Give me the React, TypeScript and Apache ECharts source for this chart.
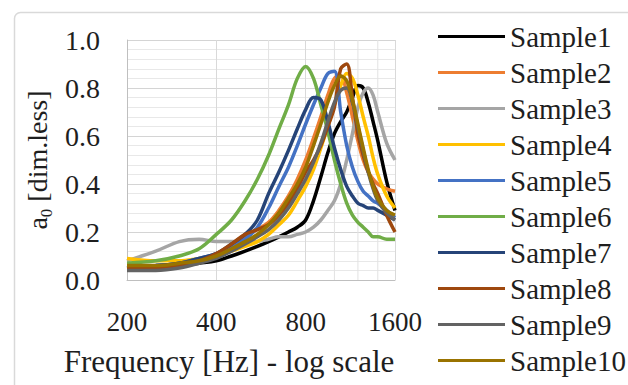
import React, { useEffect, useRef } from "react";
import * as echarts from "echarts";

// Frequencies (Hz) at which values were read
const FREQ_HZ = [200, 250, 300, 350, 400, 450, 500, 550, 600, 650, 700, 750, 800, 850, 900, 950, 1000, 1050, 1100, 1150, 1200, 1250, 1300, 1350, 1400, 1500, 1600];

const SAMPLE_NAMES = ["Sample1", "Sample2", "Sample3", "Sample4", "Sample5", "Sample6", "Sample7", "Sample8", "Sample9", "Sample10"];

const SAMPLE1 = [0.05, 0.05, 0.06, 0.07, 0.08, 0.10, 0.12, 0.14, 0.16, 0.18, 0.20, 0.22, 0.25, 0.33, 0.43, 0.53, 0.61, 0.66, 0.70, 0.76, 0.81, 0.80, 0.74, 0.66, 0.58, 0.41, 0.29];
const SAMPLE2 = [0.05, 0.05, 0.06, 0.08, 0.10, 0.14, 0.18, 0.21, 0.24, 0.29, 0.35, 0.42, 0.50, 0.59, 0.68, 0.77, 0.84, 0.85, 0.78, 0.68, 0.58, 0.50, 0.45, 0.42, 0.40, 0.38, 0.37];
const SAMPLE3 = [0.08, 0.12, 0.16, 0.17, 0.16, 0.16, 0.16, 0.16, 0.17, 0.18, 0.18, 0.19, 0.20, 0.22, 0.25, 0.29, 0.33, 0.40, 0.50, 0.61, 0.72, 0.78, 0.80, 0.77, 0.70, 0.57, 0.50];
const SAMPLE4 = [0.09, 0.08, 0.08, 0.09, 0.10, 0.12, 0.14, 0.16, 0.19, 0.23, 0.27, 0.33, 0.39, 0.46, 0.55, 0.64, 0.73, 0.81, 0.86, 0.84, 0.77, 0.68, 0.60, 0.51, 0.44, 0.35, 0.30];
const SAMPLE5 = [0.05, 0.06, 0.07, 0.09, 0.11, 0.14, 0.17, 0.22, 0.30, 0.39, 0.47, 0.56, 0.65, 0.73, 0.80, 0.86, 0.87, 0.70, 0.56, 0.47, 0.41, 0.37, 0.35, 0.33, 0.32, 0.29, 0.26];
const SAMPLE6 = [0.07, 0.08, 0.10, 0.13, 0.19, 0.25, 0.33, 0.42, 0.52, 0.63, 0.73, 0.84, 0.89, 0.84, 0.73, 0.62, 0.50, 0.40, 0.32, 0.27, 0.24, 0.22, 0.20, 0.18, 0.18, 0.17, 0.17];
const SAMPLE7 = [0.05, 0.06, 0.07, 0.09, 0.11, 0.15, 0.19, 0.25, 0.36, 0.45, 0.54, 0.63, 0.71, 0.76, 0.75, 0.66, 0.55, 0.46, 0.39, 0.35, 0.32, 0.31, 0.30, 0.30, 0.29, 0.27, 0.25];
const SAMPLE8 = [0.05, 0.05, 0.06, 0.08, 0.11, 0.15, 0.19, 0.21, 0.23, 0.27, 0.32, 0.38, 0.45, 0.50, 0.56, 0.64, 0.72, 0.88, 0.90, 0.76, 0.61, 0.52, 0.45, 0.40, 0.36, 0.27, 0.20];
const SAMPLE9 = [0.04, 0.04, 0.05, 0.07, 0.09, 0.12, 0.15, 0.18, 0.21, 0.25, 0.30, 0.36, 0.42, 0.49, 0.57, 0.66, 0.74, 0.79, 0.80, 0.74, 0.64, 0.54, 0.45, 0.38, 0.33, 0.28, 0.25];
const SAMPLE10 = [0.06, 0.06, 0.07, 0.08, 0.10, 0.13, 0.16, 0.19, 0.23, 0.28, 0.34, 0.40, 0.47, 0.56, 0.65, 0.74, 0.81, 0.85, 0.83, 0.75, 0.65, 0.55, 0.46, 0.39, 0.34, 0.29, 0.27];

const SAMPLES = [SAMPLE1, SAMPLE2, SAMPLE3, SAMPLE4, SAMPLE5, SAMPLE6, SAMPLE7, SAMPLE8, SAMPLE9, SAMPLE10];
const COLORS = ["#000000", "#ED7D31", "#A5A5A5", "#FFC000", "#4472C4", "#70AD47", "#264478", "#9E480E", "#636363", "#997300"];

// Axis definitions
const F_MIN = 200;
const OCTAVES = 3; // 200 -> 1600
const MINOR_GRID_HZ = [600, 1000, 1200, 1400];

const FONT = "Liberation Serif";
const TEXT = "#1e1e1e";

const toX = (f: number) => Math.log2(f / F_MIN);

export default function App() {
  const ref = useRef<HTMLDivElement>(null);
  useEffect(() => {
    if (!ref.current) return;
    const chart = echarts.init(ref.current, null, { renderer: "svg" });
    const option: any = {
      animation: false,
      backgroundColor: "#ffffff",
      textStyle: { fontFamily: FONT },
      graphic: [
        {
          type: "rect",
          silent: true,
          z: -10,
          shape: { x: 14.5, y: 12.5, width: 700, height: 500, r: 6 },
          style: { fill: "none", stroke: "#d9d9d9", lineWidth: 1.5 },
        },
      ],
      grid: { left: 127, top: 40, width: 268, height: 240 },
      legend: {
        data: SAMPLE_NAMES,
        orient: "vertical",
        left: 438,
        top: 22,
        padding: 0,
        icon: "rect",
        itemWidth: 67,
        itemHeight: 3,
        itemGap: 7,
        textStyle: { fontSize: 29, color: TEXT, fontFamily: FONT },
      },
      xAxis: {
        type: "value",
        min: 0,
        max: OCTAVES,
        interval: 1,
        axisLine: { show: true, lineStyle: { color: "#bfbfbf" } },
        axisTick: { show: false },
        splitLine: { show: true, lineStyle: { color: "#d9d9d9" } },
        axisLabel: {
          formatter: (v: number) => String(Math.round(F_MIN * Math.pow(2, v))),
          fontSize: 27,
          color: TEXT,
          fontFamily: FONT,
          margin: 28,
        },
        name: "Frequency [Hz] - log scale",
        nameLocation: "middle",
        nameGap: 66,
        nameTextStyle: { fontSize: 31, color: TEXT, fontFamily: FONT, padding: [0, 64, 0, 0] },
      },
      yAxis: {
        type: "value",
        min: 0,
        max: 1,
        interval: 0.2,
        axisLine: { show: true, lineStyle: { color: "#bfbfbf" } },
        axisTick: { show: false },
        splitLine: { show: true, lineStyle: { color: "#d4d4d4" } },
        minorTick: { show: false, splitNumber: 5 },
        minorSplitLine: { show: true, lineStyle: { color: "#e8e8e8" } },
        axisLabel: {
          formatter: (v: number) => v.toFixed(1),
          fontSize: 28,
          color: TEXT,
          fontFamily: FONT,
          margin: 27,
        },
        name: "{a|a}{s|0}{a| [dim.less]}",
        nameLocation: "middle",
        nameRotate: 90,
        nameGap: 76,
        nameTextStyle: {
          color: TEXT,
          fontFamily: FONT,
          fontSize: 28,
          rich: {
            a: { fontSize: 28, color: TEXT, fontFamily: FONT },
            s: { fontSize: 17, color: TEXT, fontFamily: FONT, verticalAlign: "bottom", padding: [0, 0, -4, 0] },
          },
        },
      },
      series: [
        {
          type: "custom",
          name: "minorGrid",
          coordinateSystem: "cartesian2d",
          silent: true,
          z: 1,
          encode: { x: 0, y: 1 },
          data: MINOR_GRID_HZ.map((f) => [toX(f), 0]),
          renderItem: (params: any, api: any) => {
            const p0 = api.coord([api.value(0), 0]);
            const p1 = api.coord([api.value(0), 1]);
            return {
              type: "line",
              shape: { x1: p0[0], y1: p0[1], x2: p1[0], y2: p1[1] },
              style: { stroke: "#e2e2e2", lineWidth: 1 },
            };
          },
        },
        ...SAMPLES.map((vals, i) => ({
          type: "line",
          name: SAMPLE_NAMES[i],
          z: 2,
          symbol: "none",
          smooth: 0.35,
          lineStyle: { width: 3.5, color: COLORS[i] },
          itemStyle: { color: COLORS[i] },
          data: FREQ_HZ.map((f, j) => [toX(f), vals[j]]),
        })),
      ],
    };
    chart.setOption(option);
    return () => chart.dispose();
  }, []);
  return (
    <div
      ref={ref}
      style={{ position: "fixed", left: 0, top: 0, width: 628, height: 385, background: "#fff" }}
    />
  );
}
